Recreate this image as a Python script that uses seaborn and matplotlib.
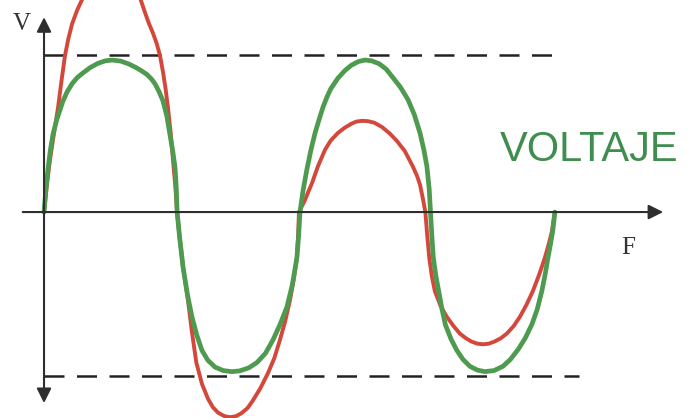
import pandas as pd
import matplotlib
matplotlib.use("Agg")
import matplotlib.pyplot as plt
import seaborn as sns

# curve points (t = fraction of one cycle, V = green peak = 1)
green_t = [0, 0.008, 0.016, 0.025, 0.035, 0.05, 0.074, 0.09, 0.11, 0.13, 0.152, 0.18, 0.21, 0.24, 0.266,
           0.30, 0.33, 0.36, 0.38, 0.402, 0.42, 0.435, 0.45, 0.465, 0.48, 0.492, 0.503, 0.512, 0.517, 0.52,
           0.53, 0.543, 0.56, 0.578, 0.597, 0.617, 0.64, 0.668, 0.70, 0.734, 0.765, 0.80, 0.832, 0.865,
           0.895, 0.922, 0.949, 0.97, 0.988, 0.995, 1.0,
           1.012, 1.027, 1.043, 1.059, 1.075, 1.09, 1.105, 1.12, 1.148, 1.175, 1.20, 1.228, 1.254, 1.28, 1.31,
           1.337, 1.363, 1.393, 1.422, 1.447, 1.469, 1.484, 1.496, 1.505, 1.51,
           1.515, 1.521, 1.531, 1.542, 1.555, 1.568, 1.59, 1.613, 1.637, 1.664, 1.693, 1.723, 1.758, 1.793,
           1.822, 1.852, 1.88, 1.906, 1.927, 1.945, 1.958, 1.969, 1.98, 1.988, 1.996]
green_v = [0, 0.16, 0.29, 0.41, 0.51, 0.61, 0.73, 0.79, 0.845, 0.885, 0.915, 0.95, 0.978, 0.995, 1.0,
           0.993, 0.975, 0.95, 0.93, 0.905, 0.875, 0.84, 0.79, 0.73, 0.63, 0.51, 0.40, 0.29, 0.15, 0,
           -0.17, -0.36, -0.54, -0.69, -0.81, -0.91, -0.975, -1.02, -1.043, -1.05, -1.045, -1.025, -0.99, -0.93,
           -0.84, -0.74, -0.625, -0.48, -0.30, -0.15, 0,
           0.14, 0.28, 0.41, 0.52, 0.61, 0.69, 0.755, 0.81, 0.88, 0.93, 0.965, 0.99, 1.0, 0.995, 0.975,
           0.94, 0.885, 0.82, 0.74, 0.64, 0.52, 0.41, 0.30, 0.15, 0,
           -0.15, -0.30, -0.42, -0.52, -0.64, -0.74, -0.835, -0.91, -0.97, -1.015, -1.04, -1.05, -1.043, -1.015,
           -0.97, -0.905, -0.83, -0.74, -0.64, -0.52, -0.41, -0.30, -0.20, -0.12, 0]

red_t = [0, 0.01, 0.023, 0.04, 0.055, 0.068, 0.082, 0.095, 0.11, 0.13, 0.152, 0.175, 0.20, 0.23, 0.26,
         0.28, 0.30, 0.33, 0.355, 0.375, 0.395, 0.41, 0.425, 0.44, 0.453, 0.465, 0.475, 0.484, 0.495, 0.504,
         0.513, 0.52,
         0.53, 0.543, 0.56, 0.578, 0.595, 0.617, 0.641, 0.66, 0.68, 0.705, 0.727, 0.75, 0.77, 0.795, 0.816,
         0.845, 0.875, 0.90, 0.922, 0.942, 0.961, 0.976, 0.988, 0.993, 0.996,
         1.008, 1.02, 1.033, 1.047, 1.07, 1.098, 1.12, 1.148, 1.175, 1.20, 1.22, 1.242, 1.265, 1.29, 1.32,
         1.352, 1.38, 1.41, 1.441, 1.458, 1.469, 1.48, 1.49,
         1.497, 1.505, 1.515, 1.527, 1.55, 1.574, 1.60, 1.625, 1.648, 1.67, 1.693, 1.715, 1.738, 1.76, 1.785,
         1.808, 1.835, 1.859, 1.885, 1.91, 1.935, 1.957, 1.972, 1.984, 1.996]
red_v = [0, 0.16, 0.34, 0.53, 0.69, 0.86, 1.03, 1.14, 1.24, 1.33, 1.41, 1.53, 1.64, 1.74, 1.79,
         1.79, 1.76, 1.66, 1.53, 1.41, 1.31, 1.24, 1.18, 1.11, 1.03, 0.92, 0.81, 0.69, 0.52, 0.34,
         0.17, 0,
         -0.17, -0.36, -0.55, -0.79, -0.99, -1.13, -1.23, -1.285, -1.32, -1.343, -1.35, -1.343, -1.325, -1.29, -1.24,
         -1.16, -1.06, -0.96, -0.84, -0.72, -0.58, -0.44, -0.30, -0.15, 0,
         0.04, 0.08, 0.135, 0.19, 0.30, 0.41, 0.47, 0.52, 0.555, 0.58, 0.595, 0.60, 0.598, 0.588, 0.56,
         0.515, 0.465, 0.40, 0.30, 0.235, 0.18, 0.09, 0,
         -0.15, -0.30, -0.42, -0.52, -0.62, -0.69, -0.75, -0.80, -0.83, -0.852, -0.866, -0.87, -0.866, -0.852, -0.83,
         -0.80, -0.75, -0.69, -0.61, -0.52, -0.41, -0.30, -0.21, -0.13, 0]

ref_high = 1.03
ref_low = -1.08

green = pd.DataFrame({"t": green_t, "V": green_v})
red = pd.DataFrame({"t": red_t, "V": red_v})

sns.set_theme(style="white")

fig = plt.figure(figsize=(6.89, 4.18), dpi=100)
ax = fig.add_axes([0, 0, 1, 1])
ax.set_xlim(-0.172, 2.52)
ax.set_ylim(-1.355, 1.395)
ax.axis("off")

axis_col = "#2e2e2e"

# dashed reference levels
ax.plot([0.0, 2.03], [ref_high, ref_high], color="#222222", lw=1.8, dashes=(8, 5))
ax.plot([0.0, 2.09], [ref_low, ref_low], color="#222222", lw=1.8, dashes=(8, 5))

# axes with arrows
ax.annotate("", xy=(2.43, 0), xytext=(-0.094, 0),
            arrowprops=dict(arrowstyle="-|>", color=axis_col, lw=1.5, mutation_scale=22))
ax.annotate("", xy=(0, 1.30), xytext=(0, -1.275),
            arrowprops=dict(arrowstyle="<|-|>", color=axis_col, lw=1.5, mutation_scale=22))

sns.lineplot(data=red, x="t", y="V", sort=False, estimator=None, color="#d4483b", lw=2.8,
             solid_joinstyle="round", solid_capstyle="round", ax=ax)
sns.lineplot(data=green, x="t", y="V", sort=False, estimator=None, color="#4e9b4f", lw=3.4,
             solid_joinstyle="round", solid_capstyle="round", ax=ax)

ax.text(-0.086, 1.24, "V", fontsize=18, family="Liberation Serif", color="#333333",
        ha="center", va="center")
ax.text(2.281, -0.237, "F", fontsize=18, family="Liberation Serif", color="#333333",
        ha="center", va="center")
ax.text(2.129, 0.41, "VOLTAJE", fontsize=30, family="Liberation Sans", color="#3f8d4f",
        ha="center", va="center")

fig.savefig("out.png", dpi=100)
